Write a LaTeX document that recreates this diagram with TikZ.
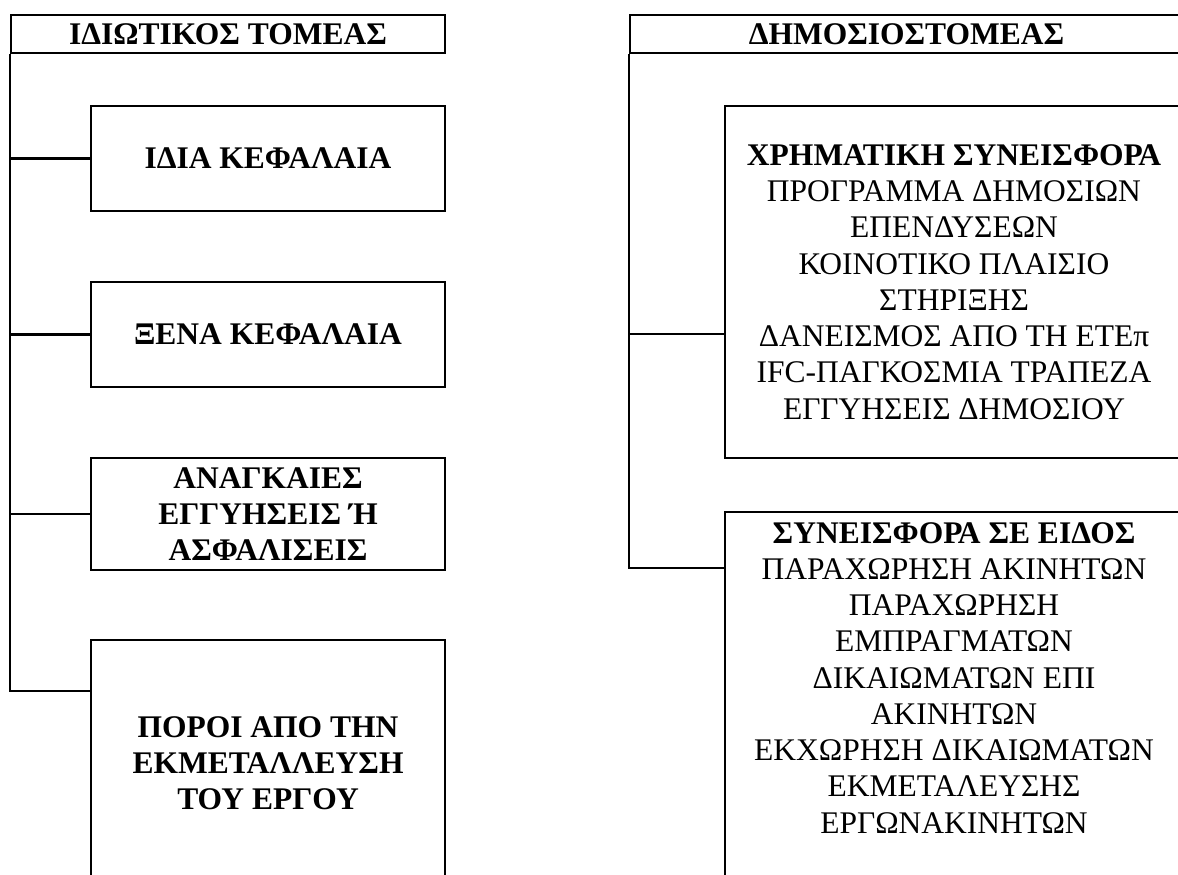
\documentclass[tikz,border=0pt]{standalone}
\usepackage{fontspec}
\setmainfont{Liberation Serif}
\usetikzlibrary{positioning}
\usetikzlibrary{calc}

\tikzset{
  box/.style={draw, line width=1pt, rectangle, align=center, inner sep=0pt,
    font=\fontsize{14}{16.1}\selectfont},
  boldbox/.style={box, font=\fontsize{14}{16.1}\selectfont\bfseries},
  txt/.style={align=center, inner sep=0pt, font=\fontsize{14}{16.1}\selectfont},
  link/.style={line width=1pt},
}

\begin{document}
\begin{tikzpicture}[x=0.4444pt,y=-0.4444pt]
    \useasboundingbox (0,0) rectangle (1178,875);
    \clip (0,0) rectangle (1178,875);
    % private sector
    \node[boldbox, minimum width=192.9pt, minimum height=16.9pt] (lhead) at (228,34) {ΙΔΙΩΤΙΚΟΣ ΤΟΜΕΑΣ};
    \node[boldbox, minimum width=157.3pt, minimum height=46.7pt] (l1) at (268,158.5) {ΙΔΙΑ ΚΕΦΑΛΑΙΑ};
    \node[boldbox, minimum width=157.3pt, minimum height=46.7pt] (l2) at (268,334.5) {ΞΕΝΑ ΚΕΦΑΛΑΙΑ};
    \node[boldbox, minimum width=157.3pt, minimum height=49.8pt] (l3) at (268,514) {ΑΝΑΓΚΑΙΕΣ\\ΕΓΓΥΗΣΕΙΣ Ή\\ΑΣΦΑΛΙΣΕΙΣ};
    \node[boldbox, minimum width=157.3pt, minimum height=109.3pt] (l4) at (268,763) {ΠΟΡΟΙ ΑΠΟ ΤΗΝ\\ΕΚΜΕΤΑΛΛΕΥΣΗ\\ΤΟΥ ΕΡΓΟΥ};
    \coordinate (l4in) at ($(l4.north west)+(0,52)$);
    \draw[link] (lhead.south west) |- (l4in);
    \draw[link] (lhead.south west |- l1.west) -- (l1.west);
    \draw[link] (lhead.south west |- l2.west) -- (l2.west);
    \draw[link] (lhead.south west |- l3.west) -- (l3.west);

    % public sector
    \node[boldbox, minimum width=245.8pt, minimum height=16.9pt] (rhead) at (906.5,34) {ΔΗΜΟΣΙΟΣΤΟΜΕΑΣ};
    \node[box, minimum width=203.6pt, minimum height=156.4pt] (r1) at (954,282) {\textbf{ΧΡΗΜΑΤΙΚΗ ΣΥΝΕΙΣΦΟΡΑ}\\ΠΡΟΓΡΑΜΜΑ ΔΗΜΟΣΙΩΝ\\ΕΠΕΝΔΥΣΕΩΝ\\ΚΟΙΝΟΤΙΚΟ ΠΛΑΙΣΙΟ\\ΣΤΗΡΙΞΗΣ\\ΔΑΝΕΙΣΜΟΣ ΑΠΟ ΤΗ ΕΤΕπ\\IFC-ΠΑΓΚΟΣΜΙΑ ΤΡΑΠΕΖΑ\\ΕΓΓΥΗΣΕΙΣ ΔΗΜΟΣΙΟΥ};
    \node[box, minimum width=203.6pt, minimum height=181.3pt] (r2) at (954,716) {};
    \node[txt, below=4.9pt of r2.north] (r2txt) {\textbf{ΣΥΝΕΙΣΦΟΡΑ ΣΕ ΕΙΔΟΣ}\\ΠΑΡΑΧΩΡΗΣΗ ΑΚΙΝΗΤΩΝ\\ΠΑΡΑΧΩΡΗΣΗ\\ΕΜΠΡΑΓΜΑΤΩΝ\\ΔΙΚΑΙΩΜΑΤΩΝ ΕΠΙ\\ΑΚΙΝΗΤΩΝ\\ΕΚΧΩΡΗΣΗ ΔΙΚΑΙΩΜΑΤΩΝ\\ΕΚΜΕΤΑΛΕΥΣΗΣ\\ΕΡΓΩΝΑΚΙΝΗΤΩΝ};
    \coordinate (r1in) at ($(r1.west)+(0,52)$);
    \coordinate (r2in) at ($(r2.north west)+(0,57)$);
    \draw[link] (rhead.south west) |- (r2in);
    \draw[link] (rhead.south west |- r1in) -- (r1in);
\end{tikzpicture}
\end{document}
